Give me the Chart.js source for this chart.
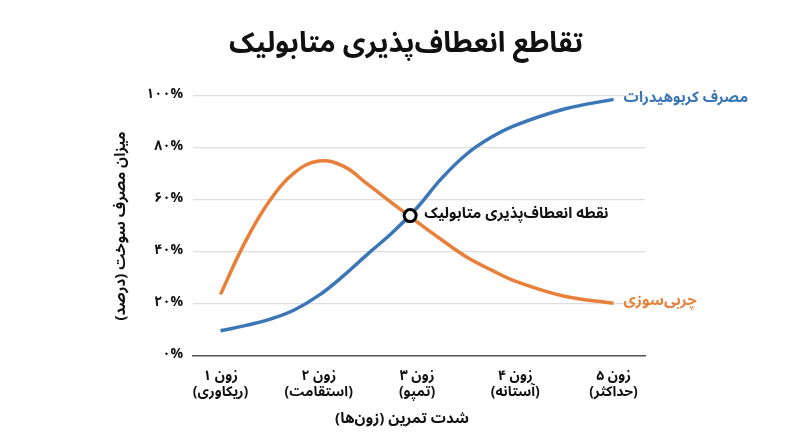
<!DOCTYPE html>
<html>
<head>
<meta charset="utf-8">
<script src="https://cdn.jsdelivr.net/npm/chart.js@4.4.1/dist/chart.umd.min.js"></script>
<style>
  html, body { margin: 0; padding: 0; background: #ffffff; }
  #wrap { width: 800px; height: 447px; }
</style>
</head>
<body>
<div id="wrap"><canvas id="crossover-chart"></canvas></div>
<script>
// zones on the x axis, curve points (percent)
const zoneX = [1, 1.25, 1.5, 1.75, 2, 2.25, 2.5, 2.75, 3, 3.25, 3.5, 3.75, 4, 4.5, 5];
const carbValues = [9.7, 11.7, 14.1, 17.7, 23.3, 30.8, 39.3, 47.5, 57, 68.3, 77.5, 84, 88.7, 95, 98.7];
const fatValues = [23.7, 43.8, 59.7, 70.4, 75, 73, 66, 58.7, 51.6, 44.7, 38.2, 33.2, 28.8, 23, 20.3];
const crossX = [2.93];
const crossY = [54];

const zoneNames = ['زون ۱', 'زون ۲', 'زون ۳', 'زون ۴', 'زون ۵'];
const zoneDesc = ['(ریکاوری)', '(استقامت)', '(تمپو)', '(آستانه)', '(حداکثر)'];
const yTickLabels = ['۰%', '۲۰%', '۴۰%', '۶۰%', '۸۰%', '۱۰۰%'];

const titleText = 'تقاطع انعطاف‌پذیری متابولیک';
const xTitle = 'شدت تمرین (زون‌ها)';
const yTitle = 'میزان مصرف سوخت (درصد)';
const carbLabel = 'مصرف کربوهیدرات';
const fatLabel = 'چربی‌سوزی';
const crossLabel = 'نقطه انعطاف‌پذیری متابولیک';

const BLUE = '#3b76b7';
const ORANGE = '#e8803a';
const FONT = "'Noto Sans Arabic', 'Vazirmatn', 'DejaVu Sans', sans-serif";

// keep persian strings right-to-left inside an ltr canvas
const rtl = s => '\u200F' + s + '\u200F';
const toPoints = (xs, ys) => xs.map((x, i) => ({ x: x, y: ys[i] }));

// series labels at the line ends + title texts centred on the page
const chartTexts = {
  id: 'chartTexts',
  afterDatasetsDraw(chart) {
    const ctx = chart.ctx;
    ctx.save();
    ctx.textAlign = 'left';
    ctx.textBaseline = 'middle';
    chart.data.datasets.forEach((ds, i) => {
      if (!ds.endLabel) return;
      const pts = chart.getDatasetMeta(i).data;
      const p = pts[pts.length - 1];
      ctx.font = ds.endLabelFont;
      ctx.fillStyle = ds.endLabelColor;
      ctx.fillText(rtl(ds.endLabel), p.x + ds.endLabelGap, p.y);
    });

    ctx.textAlign = 'center';
    ctx.fillStyle = '#111111';
    ctx.font = 'bold 28px ' + FONT;
    ctx.fillText(rtl(titleText), 406, 48);
    ctx.font = 'bold 15px ' + FONT;
    ctx.fillText(rtl(xTitle), 402, 421);
    ctx.restore();
  }
};

const ctx = document.getElementById('crossover-chart').getContext('2d');
new Chart(ctx, {
  type: 'line',
  data: {
    datasets: [
      {
        data: toPoints(crossX, crossY),
        borderColor: '#000000',
        backgroundColor: '#ffffff',
        borderWidth: 3,
        pointRadius: 6,
        showLine: false,
        order: 0,
        endLabel: crossLabel,
        endLabelFont: 'bold 15px ' + FONT,
        endLabelColor: '#111111',
        endLabelGap: 14
      },
      {
        data: toPoints(zoneX, carbValues),
        borderColor: BLUE,
        borderWidth: 3.5,
        pointRadius: 0,
        tension: 0.4,
        order: 2,
        endLabel: carbLabel,
        endLabelFont: 'bold 15px ' + FONT,
        endLabelColor: BLUE,
        endLabelGap: 10
      },
      {
        data: toPoints(zoneX, fatValues),
        borderColor: ORANGE,
        borderWidth: 3.5,
        pointRadius: 0,
        tension: 0.4,
        order: 1,
        endLabel: fatLabel,
        endLabelFont: 'bold 15px ' + FONT,
        endLabelColor: ORANGE,
        endLabelGap: 10
      }
    ]
  },
  options: {
    responsive: true,
    maintainAspectRatio: false,
    animation: false,
    layout: { padding: { left: 100, right: 155, top: 96, bottom: 43 } },
    plugins: {
      legend: { display: false },
      tooltip: { enabled: false },
      title: { display: false }
    },
    scales: {
      x: {
        type: 'linear',
        min: 0.72,
        max: 5.32,
        grid: { display: false },
        border: { display: true, color: '#555555', width: 1.5 },
        afterBuildTicks(scale) {
          scale.ticks = zoneNames.map((n, i) => ({ value: i + 1 }));
        },
        afterFit(scale) { scale.height = 48; },
        ticks: {
          padding: 5,
          color: '#111111',
          font: { family: FONT, size: 14, weight: 'bold' },
          maxRotation: 0,
          callback: (v) => {
            const i = Math.round(v) - 1;
            return [rtl(zoneNames[i]), rtl(zoneDesc[i])];
          }
        }
      },
      y: {
        min: 0,
        max: 100,
        grid: { color: '#dddddd', lineWidth: 1.2, drawTicks: false },
        border: { display: false },
        afterFit(scale) { scale.width = 93; },
        ticks: {
          stepSize: 20,
          padding: 10,
          color: '#111111',
          font: { family: FONT, size: 14, weight: 'bold' },
          callback: (v) => yTickLabels[Math.round(v / 20)]
        },
        title: {
          display: true,
          text: rtl(yTitle),
          color: '#111111',
          font: { family: FONT, size: 15, weight: 'bold' },
          padding: { top: 14, bottom: 0 }
        }
      }
    }
  },
  plugins: [chartTexts]
});
</script>
</body>
</html>
